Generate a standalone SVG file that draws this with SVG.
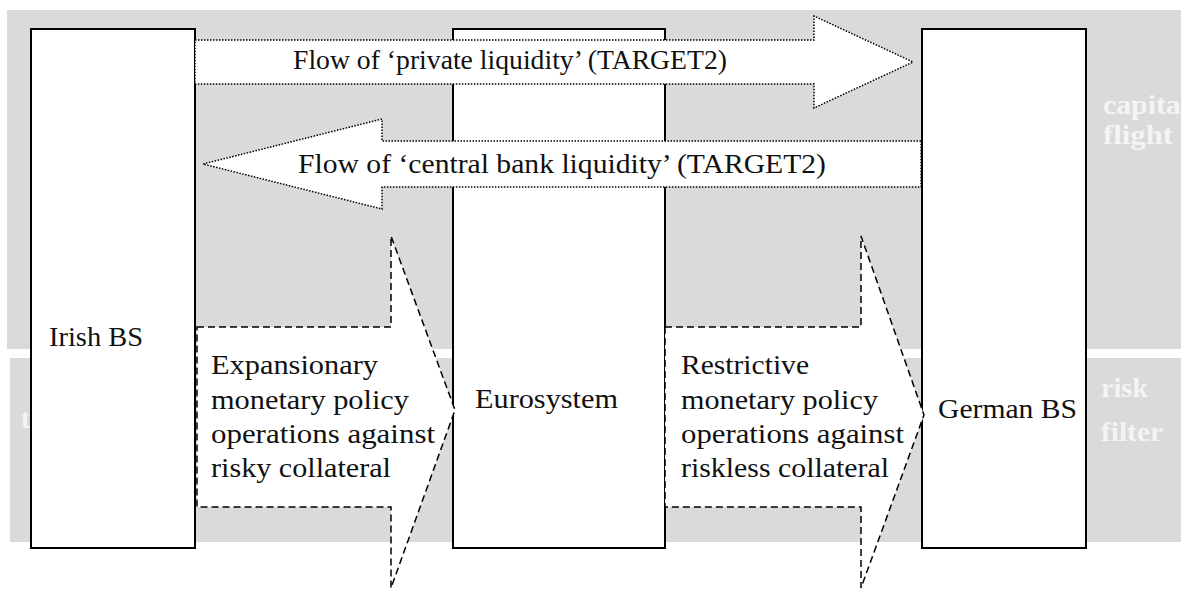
<svg xmlns="http://www.w3.org/2000/svg" width="1181" height="590" viewBox="0 0 1181 590">
  <style>
    .band { fill: #dadada; }
    .node rect { fill: #ffffff; stroke: #000000; stroke-width: 2; }
    .lbl { font-family: "Liberation Serif", "Times New Roman", serif; font-size: 28px; fill: #111111; }
    .ghost { font-family: "Liberation Serif", "Times New Roman", serif; font-size: 27px; font-weight: bold; fill: #f4f4f4; }
    .dotted { fill: #ffffff; stroke: #000000; stroke-width: 1.5; stroke-dasharray: 1.5 1.5; }
    .dashed { fill: #ffffff; stroke: #000000; stroke-width: 1.5; stroke-dasharray: 7 4; }
  </style>

  <rect width="1181" height="590" fill="#ffffff"/>

  <g id="background">
    <rect class="band" x="7" y="10" width="1174" height="339"/>
    <rect class="band" x="10" y="358" width="1171" height="184"/>
    <text class="ghost" x="1103" y="114" textLength="86" lengthAdjust="spacingAndGlyphs">capital</text>
    <text class="ghost" x="1103" y="144" textLength="70" lengthAdjust="spacingAndGlyphs">flight</text>
    <text class="ghost" x="1101" y="397" textLength="47" lengthAdjust="spacingAndGlyphs">risk</text>
    <text class="ghost" x="1101" y="441" textLength="62" lengthAdjust="spacingAndGlyphs">filter</text>
    <text class="ghost" x="21" y="428">t</text>
  </g>

  <g id="irish-bs" class="node">
    <rect x="31" y="29" width="164" height="519"/>
    <text class="lbl" x="49" y="346" textLength="94" lengthAdjust="spacingAndGlyphs">Irish BS</text>
  </g>

  <g id="eurosystem" class="node">
    <rect x="453" y="29" width="212" height="519"/>
    <text class="lbl" x="475" y="408" textLength="143" lengthAdjust="spacingAndGlyphs">Eurosystem</text>
  </g>

  <g id="german-bs" class="node">
    <rect x="922" y="29" width="164" height="519"/>
    <text class="lbl" x="938" y="418" textLength="139" lengthAdjust="spacingAndGlyphs">German BS</text>
  </g>

  <g id="connectors">
    <g id="flow-private">
      <polygon class="dotted" points="195,40 814,40 814,16 913,62 814,108 814,84 195,84"/>
      <text class="lbl" x="293" y="69" textLength="434" lengthAdjust="spacingAndGlyphs">Flow of ‘private liquidity’ (TARGET2)</text>
    </g>
    <g id="flow-central">
      <polygon class="dotted" points="921,141 382,141 382,119 203,164 382,209 382,187 921,187"/>
      <text class="lbl" x="298" y="173" textLength="528" lengthAdjust="spacingAndGlyphs">Flow of ‘central bank liquidity’ (TARGET2)</text>
    </g>
    <g id="expansionary">
      <polygon class="dashed" points="197,327 391,327 391,236 455,410 391,588 391,507 197,507"/>
      <text class="lbl" x="211" y="374" textLength="167" lengthAdjust="spacingAndGlyphs">Expansionary</text>
      <text class="lbl" x="211" y="409" textLength="198" lengthAdjust="spacingAndGlyphs">monetary policy</text>
      <text class="lbl" x="211" y="443" textLength="224" lengthAdjust="spacingAndGlyphs">operations against</text>
      <text class="lbl" x="211" y="477" textLength="180" lengthAdjust="spacingAndGlyphs">risky collateral</text>
    </g>
    <g id="restrictive">
      <polygon class="dashed" points="665,327 861,327 861,236 924,415 861,588 861,507 665,507"/>
      <text class="lbl" x="681" y="374" textLength="128" lengthAdjust="spacingAndGlyphs">Restrictive</text>
      <text class="lbl" x="681" y="409" textLength="197" lengthAdjust="spacingAndGlyphs">monetary policy</text>
      <text class="lbl" x="681" y="443" textLength="223" lengthAdjust="spacingAndGlyphs">operations against</text>
      <text class="lbl" x="681" y="477" textLength="208" lengthAdjust="spacingAndGlyphs">riskless collateral</text>
    </g>
  </g>
</svg>
